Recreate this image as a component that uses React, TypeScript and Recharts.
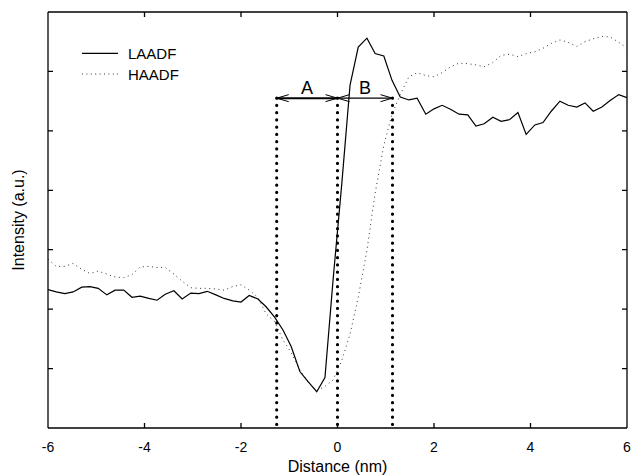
import React from 'react';
import { LineChart, Line, XAxis, YAxis, ReferenceLine, Legend } from 'recharts';

const distance = [
  -6.0, -5.83, -5.65, -5.48, -5.3, -5.13, -4.96, -4.78, -4.61, -4.43,
  -4.26, -4.09, -3.91, -3.74, -3.57, -3.39, -3.22, -3.04, -2.87, -2.7,
  -2.52, -2.35, -2.17, -2.0, -1.83, -1.65, -1.48, -1.3, -1.13, -0.96,
  -0.78, -0.61, -0.43, -0.26, -0.09, 0.09, 0.26, 0.43, 0.61, 0.78,
  0.96, 1.13, 1.3, 1.48, 1.65, 1.83, 2.0, 2.17, 2.35, 2.52,
  2.7, 2.87, 3.04, 3.22, 3.39, 3.57, 3.74, 3.91, 4.09, 4.26,
  4.43, 4.61, 4.78, 4.96, 5.13, 5.3, 5.48, 5.65, 5.83, 6.0,
];

const laadf = [
  2.33, 2.29, 2.26, 2.29, 2.37, 2.38, 2.35, 2.24, 2.32, 2.32,
  2.2, 2.22, 2.18, 2.15, 2.25, 2.31, 2.17, 2.27, 2.26, 2.3,
  2.24, 2.18, 2.14, 2.12, 2.23, 2.17, 2.04, 1.86, 1.65, 1.37,
  0.95, 0.78, 0.61, 0.85, 2.51, 4.12, 5.77, 6.41, 6.56, 6.3,
  6.26, 5.85, 5.57, 5.52, 5.55, 5.28, 5.37, 5.43, 5.36, 5.28,
  5.27, 5.08, 5.12, 5.23, 5.16, 5.19, 5.31, 4.94, 5.1, 5.14,
  5.33, 5.5, 5.43, 5.4, 5.47, 5.33, 5.4, 5.51, 5.61, 5.56,
];

const haadf = [
  2.84, 2.72, 2.72, 2.77, 2.67, 2.6, 2.64, 2.59, 2.54, 2.53,
  2.58, 2.71, 2.72, 2.7, 2.7, 2.59, 2.47, 2.36, 2.35, 2.35,
  2.34, 2.32, 2.38, 2.41, 2.32, 2.2, 1.92, 1.79, 1.48, 1.27,
  0.98, 0.77, 0.63, 0.7, 0.81, 1.14, 1.58, 2.2, 2.99, 3.95,
  4.76, 5.28, 5.61, 5.91, 5.98, 5.93, 5.91, 5.98, 6.08, 6.14,
  6.13, 6.11, 6.08, 6.15, 6.27, 6.29, 6.25, 6.3, 6.33, 6.39,
  6.47, 6.53, 6.49, 6.42, 6.5, 6.55, 6.59, 6.58, 6.49, 6.39,
];

const xTicks = [-6, -4, -2, 0, 2, 4, 6];
const innerXTicks = [-4, -2, 0, 2, 4];
const yTicks = [1, 2, 3, 4, 5, 6];
const xDomain = [-6, 6];
const yDomain = [0, 7];
const boundaries = [-1.26, 0, 1.14];
const arrowLevel = 5.55;
const regionLabels = ['A', 'B'];

const data = distance.map((d, i) => ({ d, laadf: laadf[i], haadf: haadf[i] }));

const FONT = 'Liberation Sans, Arial, sans-serif';
const AX = { stroke: '#000', strokeWidth: 1.3 };
const TICK = 5;

const DotLine = (p: any) => (
  <line
    x1={p.x1}
    y1={p.y1}
    x2={p.x2}
    y2={p.y2}
    stroke="#000"
    strokeWidth={3.2}
    strokeLinecap="round"
    strokeDasharray="0 7.25"
  />
);

// Frame side with inward tick marks; tick positions come from the axis scale via separate reference lines
const TickMarks = (dir: 'v' | 'h') => (p: any) => {
  if (dir === 'v') {
    const top = Math.min(p.y1, p.y2);
    const bottom = Math.max(p.y1, p.y2);
    return (
      <path
        d={`M${p.x1},${top}L${p.x1},${top + TICK}M${p.x1},${bottom}L${p.x1},${bottom - TICK}`}
        stroke="#000"
        strokeWidth={1.3}
        fill="none"
      />
    );
  }
  const left = Math.min(p.x1, p.x2);
  const right = Math.max(p.x1, p.x2);
  return (
    <path
      d={`M${left},${p.y1}L${left + TICK},${p.y1}M${right},${p.y1}L${right - TICK},${p.y1}`}
      stroke="#000"
      strokeWidth={1.3}
      fill="none"
    />
  );
};

const VT = TickMarks('v');
const HT = TickMarks('h');

const makeArrow = (label: string, thick: number) => (p: any) => {
  const { x1, y1, x2, y2 } = p;
  const h = 12;
  const w = 3.5;
  return (
    <g>
      <line x1={x1} y1={y1} x2={x2} y2={y2} stroke="#000" strokeWidth={thick} />
      <path d={`M${x1 + h},${y1 - w} L${x1},${y1} L${x1 + h},${y1 + w}`} fill="none" stroke="#000" strokeWidth={1} />
      <path d={`M${x2 - h},${y2 - w} L${x2},${y2} L${x2 - h},${y2 + w}`} fill="none" stroke="#000" strokeWidth={1} />
      <text x={(x1 + x2) / 2} y={y1 - 4} textAnchor="middle" fontFamily={FONT} fontSize={18} fill="#000">
        {label}
      </text>
    </g>
  );
};

const LegendContent = () => (
  <svg width={200} height={50} style={{ display: 'block' }}>
    <line x1={0} y1={10.3} x2={36} y2={10.3} stroke="#000" strokeWidth={1.2} />
    <text x={46} y={16.3} fontFamily={FONT} fontSize={15} fill="#000">LAADF</text>
    <line x1={0} y1={31} x2={36} y2={31} stroke="#333" strokeWidth={1} strokeDasharray="1 3.4" />
    <text x={46} y={37} fontFamily={FONT} fontSize={15} fill="#000">HAADF</text>
  </svg>
);

export default function App() {
  return (
    <div style={{ position: 'absolute', left: 8, top: 8, width: 623, height: 467 }}>
      <LineChart
        width={623}
        height={467}
        data={data}
        margin={{ top: 4, right: 4, bottom: 0, left: 0 }}
      >
        <XAxis
          dataKey="d"
          type="number"
          domain={xDomain}
          ticks={xTicks}
          orientation="bottom"
          height={47}
          axisLine={AX}
          tickLine={false}
          tickSize={0}
          tickMargin={14}
          tick={{ fill: '#000', fontSize: 14, fontFamily: FONT }}
          interval={0}
          allowDataOverflow
          label={{
            content: (props: any) => {
              const vb = props.viewBox;
              return (
                <text x={vb.x + vb.width / 2} y={vb.y + 43.5} textAnchor="middle" fontFamily={FONT} fontSize={16} fill="#000">
                  Distance (nm)
                </text>
              );
            },
          }}
        />
        <YAxis
          type="number"
          domain={yDomain}
          ticks={yTicks}
          orientation="left"
          width={40}
          axisLine={AX}
          tickLine={false}
          tick={false}
          allowDataOverflow
          label={{
            content: (props: any) => {
              const vb = props.viewBox;
              const cx = vb.x + 10;
              const cy = vb.y + vb.height / 2;
              return (
                <text x={cx} y={cy} transform={`rotate(-90, ${cx}, ${cy})`} textAnchor="middle" dominantBaseline="central" fontFamily={FONT} fontSize={16} fill="#000">
                  Intensity (a.u.)
                </text>
              );
            },
          }}
        />
        <Legend
          layout="horizontal"
          verticalAlign="middle"
          align="center"
          wrapperStyle={{ position: 'absolute', left: 74, top: 35, width: 200, height: 50 }}
          content={<LegendContent />}
        />
        <ReferenceLine
          segment={[{ x: xDomain[0], y: yDomain[1] }, { x: xDomain[1], y: yDomain[1] }]}
          stroke="#000"
          strokeWidth={1.3}
          ifOverflow="visible"
        />
        <ReferenceLine
          segment={[{ x: xDomain[1], y: yDomain[1] }, { x: xDomain[1], y: yDomain[0] }]}
          stroke="#000"
          strokeWidth={1.3}
          ifOverflow="visible"
        />
        {innerXTicks.map((t) => (
          <ReferenceLine
            key={`xt${t}`}
            segment={[{ x: t, y: yDomain[1] }, { x: t, y: yDomain[0] }]}
            shape={VT}
            ifOverflow="visible"
          />
        ))}
        {yTicks.map((t) => (
          <ReferenceLine
            key={`yt${t}`}
            segment={[{ x: xDomain[0], y: t }, { x: xDomain[1], y: t }]}
            shape={HT}
            ifOverflow="visible"
          />
        ))}
        {boundaries.map((b) => (
          <ReferenceLine
            key={`b${b}`}
            segment={[{ x: b, y: arrowLevel }, { x: b, y: 0 }]}
            shape={DotLine}
            ifOverflow="visible"
          />
        ))}
        {regionLabels.map((lab, i) => (
          <ReferenceLine
            key={lab}
            segment={[{ x: boundaries[i], y: arrowLevel }, { x: boundaries[i + 1], y: arrowLevel }]}
            shape={makeArrow(lab, i === 0 ? 2 : 1.2)}
            ifOverflow="visible"
          />
        ))}
        <Line
          type="linear"
          dataKey="haadf"
          stroke="#333"
          strokeWidth={1}
          strokeDasharray="1 3.6"
          dot={false}
          activeDot={false}
          isAnimationActive={false}
        />
        <Line
          type="linear"
          dataKey="laadf"
          stroke="#000"
          strokeWidth={1.2}
          dot={false}
          activeDot={false}
          isAnimationActive={false}
        />
      </LineChart>
    </div>
  );
}
